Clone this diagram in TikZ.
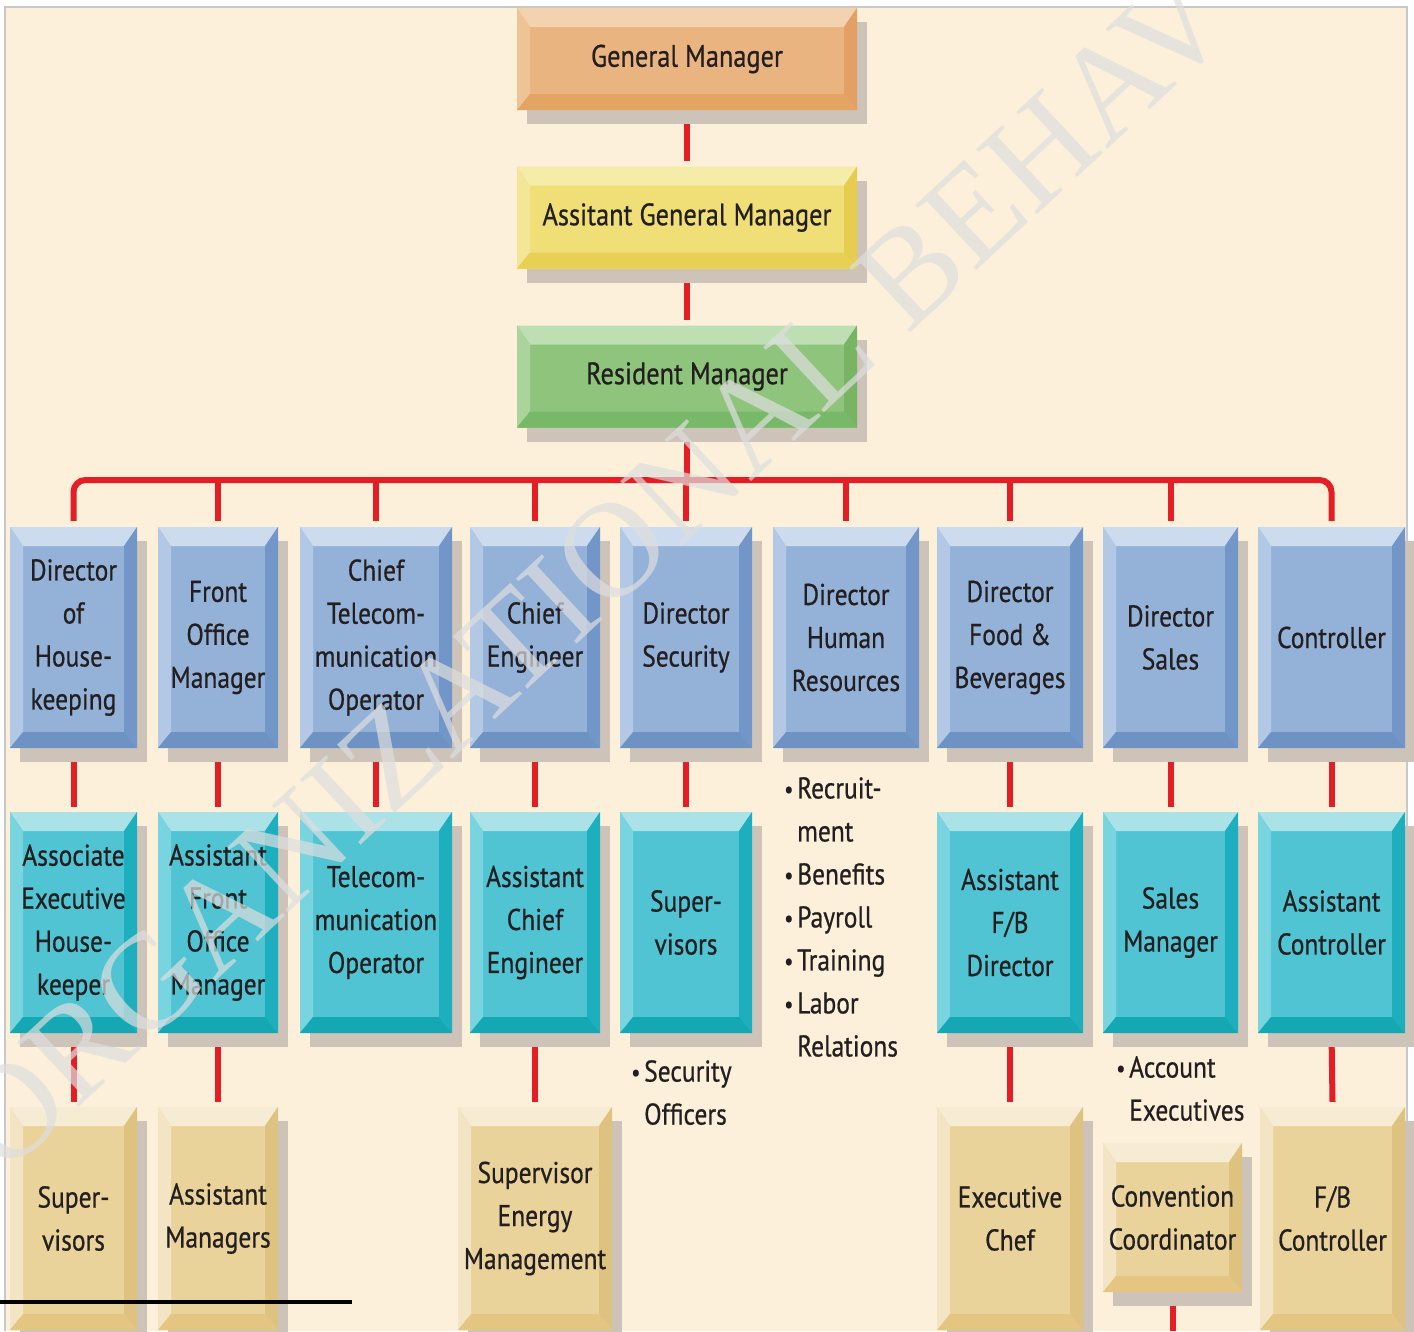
\documentclass[tikz,border=0pt]{standalone}
\usepackage{fontspec}
\setmainfont[FakeStretch=0.85,FakeBold=0.6]{PT Sans}
\newfontfamily\wmfont{Liberation Serif}
\usetikzlibrary{shadows,backgrounds}

% palette
\definecolor{cream}{RGB}{252,240,218}
\definecolor{framegray}{RGB}{200,200,200}
\definecolor{ink}{RGB}{35,31,32}
\definecolor{redline}{RGB}{228,30,36}
\definecolor{shd}{RGB}{205,195,185}
\definecolor{wmgray}{RGB}{222,222,222}
% orange
\definecolor{oF}{RGB}{234,180,128}\definecolor{oT}{RGB}{242,210,175}
\definecolor{oL}{RGB}{238,196,150}\definecolor{oR}{RGB}{226,160,100}\definecolor{oB}{RGB}{227,165,100}
% yellow
\definecolor{yF}{RGB}{240,222,118}\definecolor{yT}{RGB}{246,236,170}
\definecolor{yL}{RGB}{243,230,150}\definecolor{yR}{RGB}{230,205,80}\definecolor{yB}{RGB}{232,208,85}
% green
\definecolor{gF}{RGB}{143,196,125}\definecolor{gT}{RGB}{190,222,180}
\definecolor{gL}{RGB}{170,212,155}\definecolor{gR}{RGB}{120,180,100}\definecolor{gB}{RGB}{120,185,105}
% blue
\definecolor{bF}{RGB}{148,178,216}\definecolor{bT}{RGB}{204,220,238}
\definecolor{bL}{RGB}{178,200,228}\definecolor{bR}{RGB}{115,150,200}\definecolor{bB}{RGB}{110,146,196}
% cyan
\definecolor{cF}{RGB}{80,196,210}\definecolor{cT}{RGB}{170,226,232}
\definecolor{cL}{RGB}{120,212,222}\definecolor{cR}{RGB}{30,175,190}\definecolor{cB}{RGB}{20,168,180}
% tan
\definecolor{tF}{RGB}{234,210,155}\definecolor{tT}{RGB}{246,236,212}
\definecolor{tL}{RGB}{243,228,195}\definecolor{tR}{RGB}{222,194,128}\definecolor{tB}{RGB}{228,198,130}

\newcommand\bxfont{\fontsize{30}{43}\selectfont}
\newcommand\tpfont{\fontsize{31}{40}\selectfont}
\newcommand\blt{\makebox[13pt][l]{\raisebox{1pt}{\fontsize{24}{24}\selectfont •}}}
\newcommand\hang{\hspace*{13pt}}

\tikzset{
  bev/.style n args={5}{fill=#1,
    path picture={
      \fill[#2] (path picture bounding box.north west) -- (path picture bounding box.north east)
        -- ([shift={(-13pt,-19pt)}]path picture bounding box.north east)
        -- ([shift={(13pt,-19pt)}]path picture bounding box.north west) -- cycle;
      \fill[#3] (path picture bounding box.north west)
        -- ([shift={(13pt,-19pt)}]path picture bounding box.north west)
        -- ([shift={(13pt,16pt)}]path picture bounding box.south west)
        -- (path picture bounding box.south west) -- cycle;
      \fill[#4] (path picture bounding box.north east)
        -- ([shift={(-13pt,-19pt)}]path picture bounding box.north east)
        -- ([shift={(-13pt,16pt)}]path picture bounding box.south east)
        -- (path picture bounding box.south east) -- cycle;
      \fill[#5] (path picture bounding box.south west)
        -- ([shift={(13pt,16pt)}]path picture bounding box.south west)
        -- ([shift={(-13pt,16pt)}]path picture bounding box.south east)
        -- (path picture bounding box.south east) -- cycle;
    }},
  box/.style 2 args={draw=none, inner sep=0pt, align=center, text=ink, font=\bxfont,
    minimum width=#1pt, minimum height=#2pt,
    drop shadow={shadow xshift=10pt, shadow yshift=-14pt, fill=shd, opacity=1}},
  orangebox/.style={bev={oF}{oT}{oL}{oR}{oB}},
  yellowbox/.style={bev={yF}{yT}{yL}{yR}{yB}},
  greenbox/.style={bev={gF}{gT}{gL}{gR}{gB}},
  bluebox/.style={bev={bF}{bT}{bL}{bR}{bB}},
  cyanbox/.style={bev={cF}{cT}{cL}{cR}{cB}},
  tanbox/.style={bev={tF}{tT}{tL}{tR}{tB}},
  topbox/.style={box={340}{102}, font=\tpfont},
  conn/.style={draw=redline, line width=6pt},
  note/.style={inner sep=0pt, align=left, text=ink, font=\bxfont, anchor=north west},
}

\begin{document}
\begin{tikzpicture}[x=1pt,y=-1pt]
\useasboundingbox (0,0) rectangle (1414,1331);

% top of the hierarchy
\node[topbox, orangebox] (gm)  at (687,59)    {General Manager};
\node[topbox, yellowbox] (agm) at (687,217.5) {Assitant General Manager};
\node[topbox, greenbox]  (rm)  at (687,376.5) {Resident Manager};

% department heads
\node[box={127}{221}, bluebox] (h1) at (73.5,637.5)  {Director\\of\\House-\\keeping};
\node[box={120}{221}, bluebox] (h2) at (218,637.5)   {Front\\Office\\Manager};
\node[box={152}{221}, bluebox] (h3) at (376,637.5)   {Chief\\Telecom-\\munication\\Operator};
\node[box={130}{221}, bluebox] (h4) at (535,637.5)   {Chief\\Engineer};
\node[box={132}{221}, bluebox] (h5) at (686,637.5)   {Director\\Security};
\node[box={146}{221}, bluebox] (h6) at (846,637.5)   {Director\\Human\\Resources};
\node[box={146}{221}, bluebox] (h7) at (1010,637.5)  {Director\\Food \&\\Beverages};
\node[box={135}{221}, bluebox] (h8) at (1170.5,637.5){Director\\Sales};
\node[box={147}{221}, bluebox] (h9) at (1331.5,637.5){Controller};

% second level
\node[box={127}{221}, cyanbox] (s1) at (73.5,922.5)  {Associate\\Executive\\House-\\keeper};
\node[box={120}{221}, cyanbox] (s2) at (218,922.5)   {Assistant\\Front\\Office\\Manager};
\node[box={152}{221}, cyanbox] (s3) at (376,922.5)   {Telecom-\\munication\\Operator};
\node[box={130}{221}, cyanbox] (s4) at (535,922.5)   {Assistant\\Chief\\Engineer};
\node[box={132}{221}, cyanbox] (s5) at (686,922.5)   {Super-\\visors};
\node[box={146}{221}, cyanbox] (s7) at (1010,922.5)  {Assistant\\F/B\\Director};
\node[box={135}{221}, cyanbox] (s8) at (1170.5,922.5){Sales\\Manager};
\node[box={147}{221}, cyanbox] (s9) at (1331.5,922.5){Assistant\\Controller};

% third level
\node[box={127}{223}, tanbox] (t1) at (73.5,1218.5)  {Super-\\visors};
\node[box={120}{223}, tanbox] (t2) at (218,1218.5)   {Assistant\\Managers};
\node[box={154}{223}, tanbox] (t4) at (535,1218.5)   {Supervisor\\Energy\\Management};
\node[box={146}{223}, tanbox] (t7) at (1010,1218.5)  {Executive\\Chef};
\node[box={139}{149}, tanbox] (t8) at (1172.5,1217.5){Convention\\Coordinator};
\node[box={145}{223}, tanbox] (t9) at (1332.5,1218.5){F/B\\Controller};

% duty lists
\node[note] (hrlist) at (784,777)
  {\blt Recruit-\\\hang ment\\\blt Benefits\\\blt Payroll\\\blt Training\\\blt Labor\\\hang Relations};
\node[note] (seclist) at (631,1060) {\blt Security\\\hang Officers};
\node[note] (acclist) at (1116,1056) {\blt Account\\\hang Executives};

\coordinate (bus) at (0,480);
\coordinate (bot) at (0,1331);

\begin{pgfonlayer}{background}
  % page and frame
  \fill[white] (0,0) rectangle (1414,1331);
  \fill[cream] (5,7) rectangle (1407,1331);
  \draw[framegray, line width=1.2pt] (5,1331) -- (5,7) -- (1407,7) -- (1407,1331);

  % reporting lines
  \draw[conn] (gm.south) -- ([yshift=5pt]agm.north);
  \draw[conn] (agm.south) -- ([yshift=5pt]rm.north);
  \draw[conn] (rm.south) -- (rm.south |- bus);
  \draw[conn, rounded corners=12pt] ([yshift=6pt]h1.north) -- (h1.north |- bus)
        -- (h9.north |- bus) -- ([yshift=6pt]h9.north);
  \foreach \k in {h2,h3,h4,h5,h6,h7,h8}
    \draw[conn] (\k.north |- bus) -- ([yshift=6pt]\k.north);
  \foreach \a/\b in {h1/s1,h2/s2,h3/s3,h4/s4,h5/s5,h7/s7,h8/s8,h9/s9,
                     s1/t1,s2/t2,s4/t4,s7/t7,s9/t9}
    \draw[conn] (\a.south) -- ([yshift=5pt]\b.north);
  \draw[conn] (t8.south) -- (t8.south |- bot);
\end{pgfonlayer}

% watermark across the chart
\begin{scope}
  \clip (0,0) rectangle (1414,1331);
  \node[rotate=43, anchor=base west, inner sep=0pt, text=wmgray, opacity=0.7,
        font=\wmfont\fontsize{136}{136}\selectfont] (wm) at (4,1178)
        {ORGANIZATIONAL BEHAV};
\end{scope}

% rule at the foot
\draw[black, line width=4pt] (0,1302) -- (352,1302);
\end{tikzpicture}
\end{document}
